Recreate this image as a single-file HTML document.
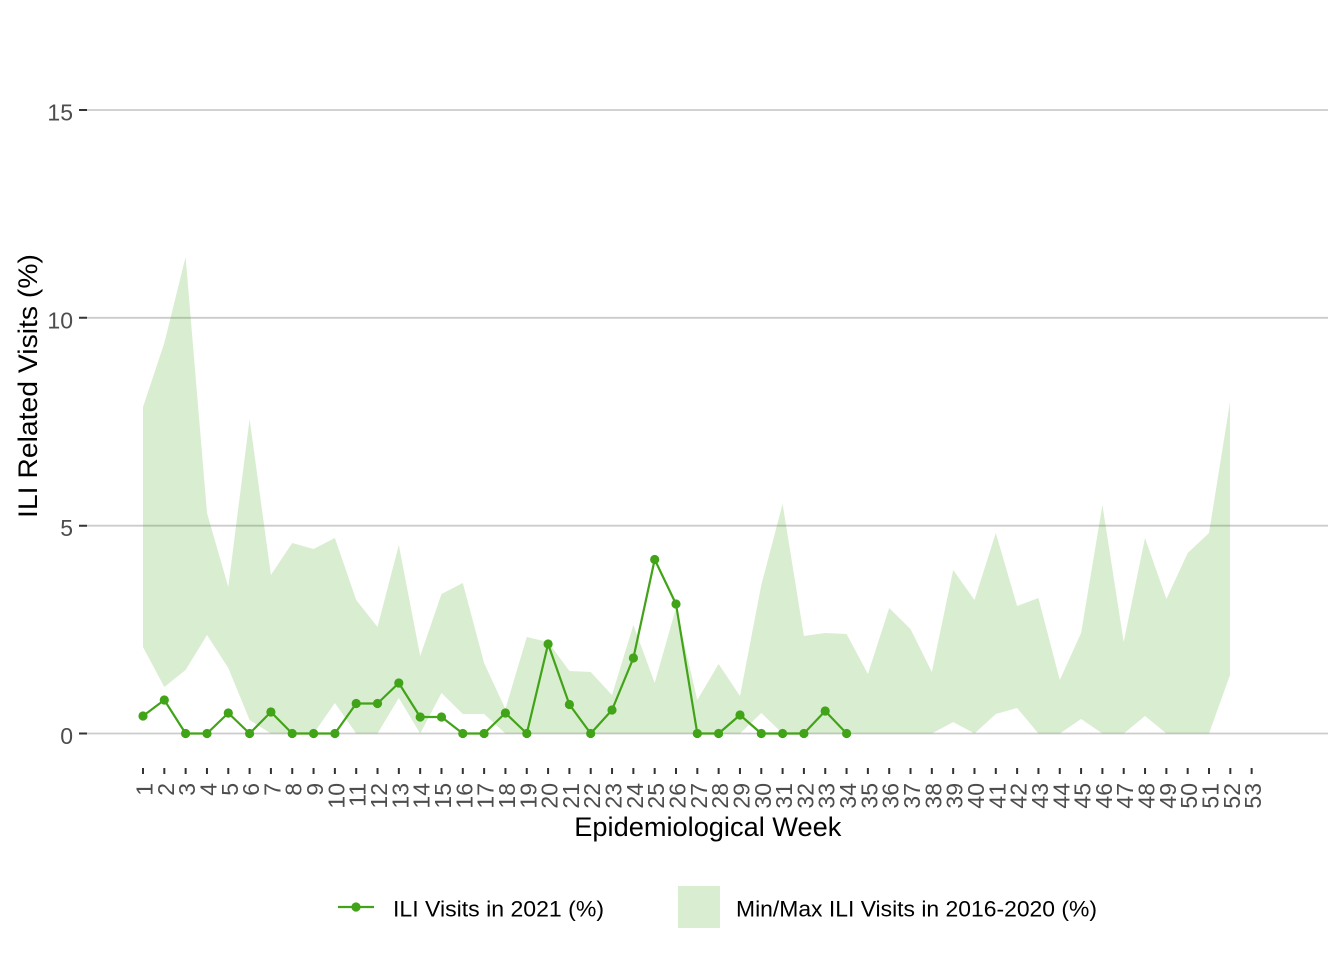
<!DOCTYPE html>
<html>
<head>
<meta charset="utf-8">
<style>
  html, body { margin:0; padding:0; background:#ffffff; }
  svg { display:block; }
  text { font-family: "Liberation Sans", Arial, sans-serif; }
</style>
</head>
<body>
<svg width="1344" height="960" viewBox="0 0 1344 960" xmlns="http://www.w3.org/2000/svg">
  <rect x="0" y="0" width="1344" height="960" fill="#ffffff"/>

  <g stroke="#cccccc" stroke-width="1.8">
    <line x1="87" y1="110" x2="1328" y2="110"/>
    <line x1="87" y1="317.8" x2="1328" y2="317.8"/>
    <line x1="87" y1="525.7" x2="1328" y2="525.7"/>
    <line x1="87" y1="733.5" x2="1328" y2="733.5"/>
  </g>

  <path stroke="#333333" stroke-width="2" fill="none" d="M79 110H87M79 317.8H87M79 525.7H87M79 733.5H87"/>
  <g font-size="23" fill="#4d4d4d" text-anchor="end">
    <text x="73" y="120.5">15</text>
    <text x="73" y="328.3">10</text>
    <text x="73" y="536.2">5</text>
    <text x="73" y="744">0</text>
  </g>

  <polygon fill="#41a317" fill-opacity="0.2" points="143,407 164.3,343 185.6,257 207,513 228.3,587 249.6,419 270.9,575 292.2,543 313.6,549 334.9,538 356.2,600 377.5,627 398.8,545 420.2,656 441.5,594 462.8,583 484.1,663 505.4,709 526.8,637 548.1,642 569.4,671 590.7,672 612,695 633.4,625 654.7,683 676,608 697.3,700 718.6,664 740,696 761.3,585 782.6,504 803.9,636 825.2,633 846.6,634 867.9,674 889.2,608 910.5,629 931.8,672 953.2,570 974.5,600 995.8,533 1017.1,606 1038.4,598 1059.8,680 1081.1,633 1102.4,505 1123.7,642 1145,538 1166.4,599 1187.7,553 1209,533 1230,402 1230,675 1209,733.5 1187.7,733.5 1166.4,733.5 1145,716 1123.7,733.5 1102.4,733.5 1081.1,719 1059.8,733.5 1038.4,733.5 1017.1,708 995.8,714 974.5,733.5 953.2,722 931.8,733.5 910.5,733.5 889.2,733.5 867.9,733.5 846.6,733.5 825.2,733.5 803.9,733.5 782.6,733.5 761.3,713 740,733.5 718.6,733.5 697.3,733.5 676,733.5 654.7,733.5 633.4,733.5 612,733.5 590.7,733.5 569.4,733.5 548.1,733.5 526.8,733.5 505.4,733.5 484.1,714 462.8,714 441.5,693 420.2,733.5 398.8,698 377.5,733.5 356.2,733.5 334.9,703 313.6,733.5 292.2,733.5 270.9,733.5 249.6,720 228.3,668 207,635 185.6,670 164.3,687 143,647"/>

  <polyline fill="none" stroke="#41a317" stroke-width="2.2" stroke-linejoin="round" points="143,716 164.3,700 185.6,733.5 207,733.5 228.3,713 249.6,733.5 270.9,712 292.2,733.5 313.6,733.5 334.9,733.5 356.2,703.5 377.5,703.5 398.8,683 420.2,717 441.5,717 462.8,733.5 484.1,733.5 505.4,713 526.8,733.5 548.1,644 569.4,704.5 590.7,733.5 612,710 633.4,658 654.7,559.5 676,604 697.3,733.5 718.6,733.5 740,715 761.3,733.5 782.6,733.5 803.9,733.5 825.2,711 846.6,733.5"/>
  <g fill="#41a317">
    <circle cx="143" cy="716" r="4.6"/>
    <circle cx="164.3" cy="700" r="4.6"/>
    <circle cx="185.6" cy="733.5" r="4.6"/>
    <circle cx="207" cy="733.5" r="4.6"/>
    <circle cx="228.3" cy="713" r="4.6"/>
    <circle cx="249.6" cy="733.5" r="4.6"/>
    <circle cx="270.9" cy="712" r="4.6"/>
    <circle cx="292.2" cy="733.5" r="4.6"/>
    <circle cx="313.6" cy="733.5" r="4.6"/>
    <circle cx="334.9" cy="733.5" r="4.6"/>
    <circle cx="356.2" cy="703.5" r="4.6"/>
    <circle cx="377.5" cy="703.5" r="4.6"/>
    <circle cx="398.8" cy="683" r="4.6"/>
    <circle cx="420.2" cy="717" r="4.6"/>
    <circle cx="441.5" cy="717" r="4.6"/>
    <circle cx="462.8" cy="733.5" r="4.6"/>
    <circle cx="484.1" cy="733.5" r="4.6"/>
    <circle cx="505.4" cy="713" r="4.6"/>
    <circle cx="526.8" cy="733.5" r="4.6"/>
    <circle cx="548.1" cy="644" r="4.6"/>
    <circle cx="569.4" cy="704.5" r="4.6"/>
    <circle cx="590.7" cy="733.5" r="4.6"/>
    <circle cx="612" cy="710" r="4.6"/>
    <circle cx="633.4" cy="658" r="4.6"/>
    <circle cx="654.7" cy="559.5" r="4.6"/>
    <circle cx="676" cy="604" r="4.6"/>
    <circle cx="697.3" cy="733.5" r="4.6"/>
    <circle cx="718.6" cy="733.5" r="4.6"/>
    <circle cx="740" cy="715" r="4.6"/>
    <circle cx="761.3" cy="733.5" r="4.6"/>
    <circle cx="782.6" cy="733.5" r="4.6"/>
    <circle cx="803.9" cy="733.5" r="4.6"/>
    <circle cx="825.2" cy="711" r="4.6"/>
    <circle cx="846.6" cy="733.5" r="4.6"/>
  </g>

  <path stroke="#333333" stroke-width="2" fill="none" d="M143 768V774M164.32 768V774M185.64 768V774M206.96 768V774M228.28 768V774M249.6 768V774M270.92 768V774M292.24 768V774M313.56 768V774M334.88 768V774M356.2 768V774M377.52 768V774M398.84 768V774M420.16 768V774M441.48 768V774M462.8 768V774M484.12 768V774M505.44 768V774M526.76 768V774M548.08 768V774M569.4 768V774M590.72 768V774M612.04 768V774M633.36 768V774M654.68 768V774M676 768V774M697.32 768V774M718.64 768V774M739.96 768V774M761.28 768V774M782.6 768V774M803.92 768V774M825.24 768V774M846.56 768V774M867.88 768V774M889.2 768V774M910.52 768V774M931.84 768V774M953.16 768V774M974.48 768V774M995.8 768V774M1017.12 768V774M1038.44 768V774M1059.76 768V774M1081.08 768V774M1102.4 768V774M1123.72 768V774M1145.04 768V774M1166.36 768V774M1187.68 768V774M1209 768V774M1230.32 768V774M1251.64 768V774"/>

  <g font-size="23" fill="#4d4d4d" text-anchor="end">
    <text transform="translate(152.5,783) rotate(-90)">1</text>
    <text transform="translate(173.82,783) rotate(-90)">2</text>
    <text transform="translate(195.14,783) rotate(-90)">3</text>
    <text transform="translate(216.46,783) rotate(-90)">4</text>
    <text transform="translate(237.78,783) rotate(-90)">5</text>
    <text transform="translate(259.1,783) rotate(-90)">6</text>
    <text transform="translate(280.42,783) rotate(-90)">7</text>
    <text transform="translate(301.74,783) rotate(-90)">8</text>
    <text transform="translate(323.06,783) rotate(-90)">9</text>
    <text transform="translate(344.38,783) rotate(-90)">10</text>
    <text transform="translate(365.7,783) rotate(-90)">11</text>
    <text transform="translate(387.02,783) rotate(-90)">12</text>
    <text transform="translate(408.34,783) rotate(-90)">13</text>
    <text transform="translate(429.66,783) rotate(-90)">14</text>
    <text transform="translate(450.98,783) rotate(-90)">15</text>
    <text transform="translate(472.3,783) rotate(-90)">16</text>
    <text transform="translate(493.62,783) rotate(-90)">17</text>
    <text transform="translate(514.94,783) rotate(-90)">18</text>
    <text transform="translate(536.26,783) rotate(-90)">19</text>
    <text transform="translate(557.58,783) rotate(-90)">20</text>
    <text transform="translate(578.9,783) rotate(-90)">21</text>
    <text transform="translate(600.22,783) rotate(-90)">22</text>
    <text transform="translate(621.54,783) rotate(-90)">23</text>
    <text transform="translate(642.86,783) rotate(-90)">24</text>
    <text transform="translate(664.18,783) rotate(-90)">25</text>
    <text transform="translate(685.5,783) rotate(-90)">26</text>
    <text transform="translate(706.82,783) rotate(-90)">27</text>
    <text transform="translate(728.14,783) rotate(-90)">28</text>
    <text transform="translate(749.46,783) rotate(-90)">29</text>
    <text transform="translate(770.78,783) rotate(-90)">30</text>
    <text transform="translate(792.1,783) rotate(-90)">31</text>
    <text transform="translate(813.42,783) rotate(-90)">32</text>
    <text transform="translate(834.74,783) rotate(-90)">33</text>
    <text transform="translate(856.06,783) rotate(-90)">34</text>
    <text transform="translate(877.38,783) rotate(-90)">35</text>
    <text transform="translate(898.7,783) rotate(-90)">36</text>
    <text transform="translate(920.02,783) rotate(-90)">37</text>
    <text transform="translate(941.34,783) rotate(-90)">38</text>
    <text transform="translate(962.66,783) rotate(-90)">39</text>
    <text transform="translate(983.98,783) rotate(-90)">40</text>
    <text transform="translate(1005.3,783) rotate(-90)">41</text>
    <text transform="translate(1026.62,783) rotate(-90)">42</text>
    <text transform="translate(1047.94,783) rotate(-90)">43</text>
    <text transform="translate(1069.26,783) rotate(-90)">44</text>
    <text transform="translate(1090.58,783) rotate(-90)">45</text>
    <text transform="translate(1111.9,783) rotate(-90)">46</text>
    <text transform="translate(1133.22,783) rotate(-90)">47</text>
    <text transform="translate(1154.54,783) rotate(-90)">48</text>
    <text transform="translate(1175.86,783) rotate(-90)">49</text>
    <text transform="translate(1197.18,783) rotate(-90)">50</text>
    <text transform="translate(1218.5,783) rotate(-90)">51</text>
    <text transform="translate(1239.82,783) rotate(-90)">52</text>
    <text transform="translate(1261.14,783) rotate(-90)">53</text>
  </g>

  <text x="707.8" y="836" font-size="27" fill="#000000" text-anchor="middle" textLength="267" lengthAdjust="spacingAndGlyphs">Epidemiological Week</text>
  <text transform="translate(37,386) rotate(-90)" font-size="27" fill="#000000" text-anchor="middle" textLength="264" lengthAdjust="spacingAndGlyphs">ILI Related Visits (%)</text>

  <line x1="338" y1="907" x2="374" y2="907" stroke="#41a317" stroke-width="2.2"/>
  <circle cx="356" cy="907" r="4.6" fill="#41a317"/>
  <text x="393" y="916.7" font-size="22.5" fill="#000000" textLength="211" lengthAdjust="spacingAndGlyphs">ILI Visits in 2021 (%)</text>

  <rect x="678" y="886" width="42" height="42" fill="#41a317" fill-opacity="0.2"/>
  <text x="736" y="916.7" font-size="22.5" fill="#000000" textLength="361" lengthAdjust="spacingAndGlyphs">Min/Max ILI Visits in 2016-2020 (%)</text>
</svg>
</body>
</html>
